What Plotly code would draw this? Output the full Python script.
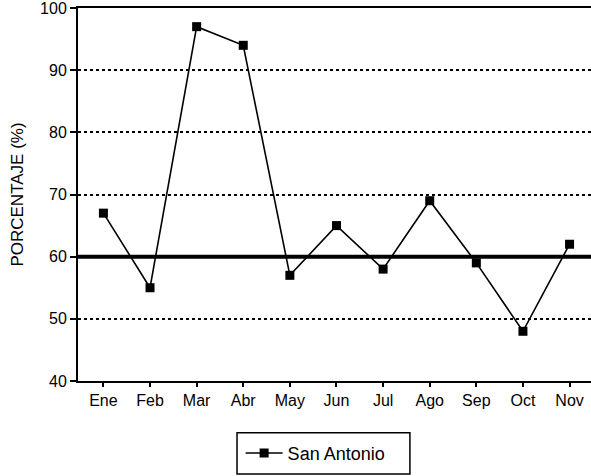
import plotly.graph_objects as go

months = ["Ene", "Feb", "Mar", "Abr", "May", "Jun", "Jul", "Ago", "Sep", "Oct", "Nov"]
san_antonio = [67, 55, 97, 94, 57, 65, 58, 69, 59, 48, 62]
reference_level = 60
y_ticks = [40, 50, 60, 70, 80, 90, 100]

FONT = "Liberation Sans, Arial, sans-serif"

fig = go.Figure()
fig.add_trace(go.Scatter(
    x=list(range(len(months))), y=san_antonio, name="San Antonio",
    mode="lines+markers",
    line=dict(color="black", width=1.6),
    marker=dict(symbol="square", size=9, color="black"),
))

# thick reference line
fig.add_shape(type="line", xref="paper", x0=0, x1=1, yref="y",
              y0=reference_level, y1=reference_level,
              line=dict(color="black", width=4))

# legend frame
fig.add_shape(type="rect", xref="paper", yref="paper",
              x0=0.31, x1=0.647, y0=-0.249, y1=-0.139,
              line=dict(color="black", width=1.5), fillcolor="rgba(0,0,0,0)")

fig.update_layout(
    width=591, height=476, autosize=False,
    margin=dict(l=78, r=0, t=8, b=95),
    paper_bgcolor="white", plot_bgcolor="white",
    font=dict(family=FONT, color="black", size=16),
    showlegend=True,
    legend=dict(orientation="h", x=0.317, xanchor="left", y=-0.194, yanchor="middle",
                borderwidth=0, bgcolor="rgba(0,0,0,0)",
                font=dict(size=18, family=FONT), itemwidth=37),
    xaxis=dict(
        range=[-0.545, 10.46], tickvals=list(range(len(months))), ticktext=months,
        showgrid=False, zeroline=False, showline=True, linecolor="black", linewidth=2,
        mirror=True, ticks="outside", ticklen=4, tickcolor="black", tickwidth=1.5,
        tickfont=dict(size=16, family=FONT), automargin=False,
        ticklabeloverflow="allow",
    ),
    yaxis=dict(
        range=[40, 100.001], tickvals=y_ticks,
        showgrid=True, gridcolor="black", griddash="dot", gridwidth=1.5,
        zeroline=False, showline=True, linecolor="black", linewidth=2,
        ticks="outside", ticklen=6, tickcolor="black", tickwidth=1.5,
        tickfont=dict(size=16, family=FONT), automargin=False,
        ticklabeloverflow="allow",
        title=dict(text="PORCENTAJE (%)", font=dict(size=17, family=FONT), standoff=12),
    ),
)

fig.write_html("out.html", config={"responsive": False, "displayModeBar": False},
               post_script="document.body.style.margin='0';document.body.style.overflow='hidden';")
